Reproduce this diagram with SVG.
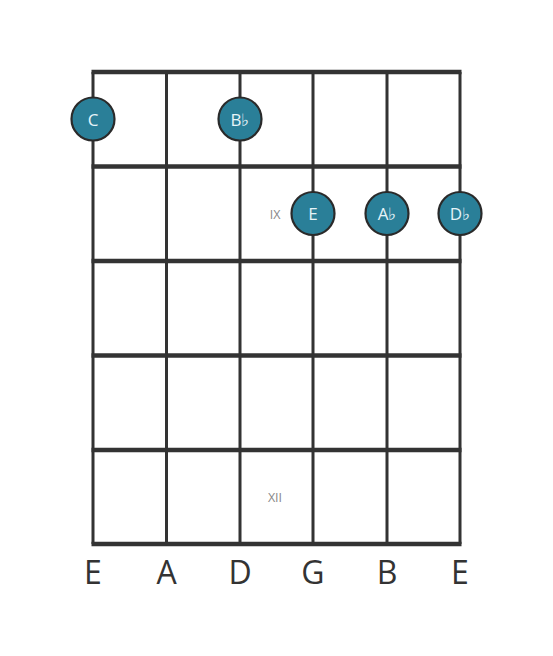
<svg xmlns="http://www.w3.org/2000/svg" width="553" height="656" viewBox="0 0 553 656">
<style>
.str{stroke:#333;stroke-width:3}
.fret{stroke:#333;stroke-width:4.5}
.dot circle{fill:#2a7f98;stroke:#2a2a2a;stroke-width:2.2}
.dot text{fill:#e6f4f8;font-family:"Open Sans",sans-serif;font-size:17px;text-anchor:middle;dominant-baseline:central}
.fn{fill:#888;font-family:"Open Sans",sans-serif;font-size:12.5px;text-anchor:middle;dominant-baseline:central}
.sn{fill:#333;font-family:"Open Sans",sans-serif;font-size:32px;text-anchor:middle}
</style>
<rect width="553" height="656" fill="#fff"/>
<g id="grid">
<line class="str" x1="93" y1="72" x2="93" y2="544"/>
<line class="str" x1="166.5" y1="72" x2="166.5" y2="544"/>
<line class="str" x1="240" y1="72" x2="240" y2="544"/>
<line class="str" x1="313" y1="72" x2="313" y2="544"/>
<line class="str" x1="387" y1="72" x2="387" y2="544"/>
<line class="str" x1="460" y1="72" x2="460" y2="544"/>
<line class="fret" x1="91.5" y1="72" x2="461.5" y2="72"/>
<line class="fret" x1="91.5" y1="166.5" x2="461.5" y2="166.5"/>
<line class="fret" x1="91.5" y1="261" x2="461.5" y2="261"/>
<line class="fret" x1="91.5" y1="355.5" x2="461.5" y2="355.5"/>
<line class="fret" x1="91.5" y1="450" x2="461.5" y2="450"/>
<line class="fret" x1="91.5" y1="544" x2="461.5" y2="544"/>
</g>
<g id="fret-numbers">
<text class="fn" x="275" y="214">IX</text>
<text class="fn" x="275" y="497">XII</text>
</g>
<g id="n-C" class="dot"><circle cx="93" cy="119" r="21.5"/><text x="93" y="119">C</text></g>
<g id="n-Bb" class="dot"><circle cx="240" cy="119" r="21.5"/><text x="240" y="119">B♭</text></g>
<g id="n-E" class="dot"><circle cx="313" cy="213.5" r="21.5"/><text x="313" y="213.5">E</text></g>
<g id="n-Ab" class="dot"><circle cx="387" cy="213.5" r="21.5"/><text x="387" y="213.5">A♭</text></g>
<g id="n-Db" class="dot"><circle cx="460" cy="213.5" r="21.5"/><text x="460" y="213.5">D♭</text></g>
<g id="strings">
<text class="sn" x="93" y="584">E</text>
<text class="sn" x="166.5" y="584">A</text>
<text class="sn" x="240" y="584">D</text>
<text class="sn" x="313" y="584">G</text>
<text class="sn" x="387" y="584">B</text>
<text class="sn" x="460" y="584">E</text>
</g>
</svg>
